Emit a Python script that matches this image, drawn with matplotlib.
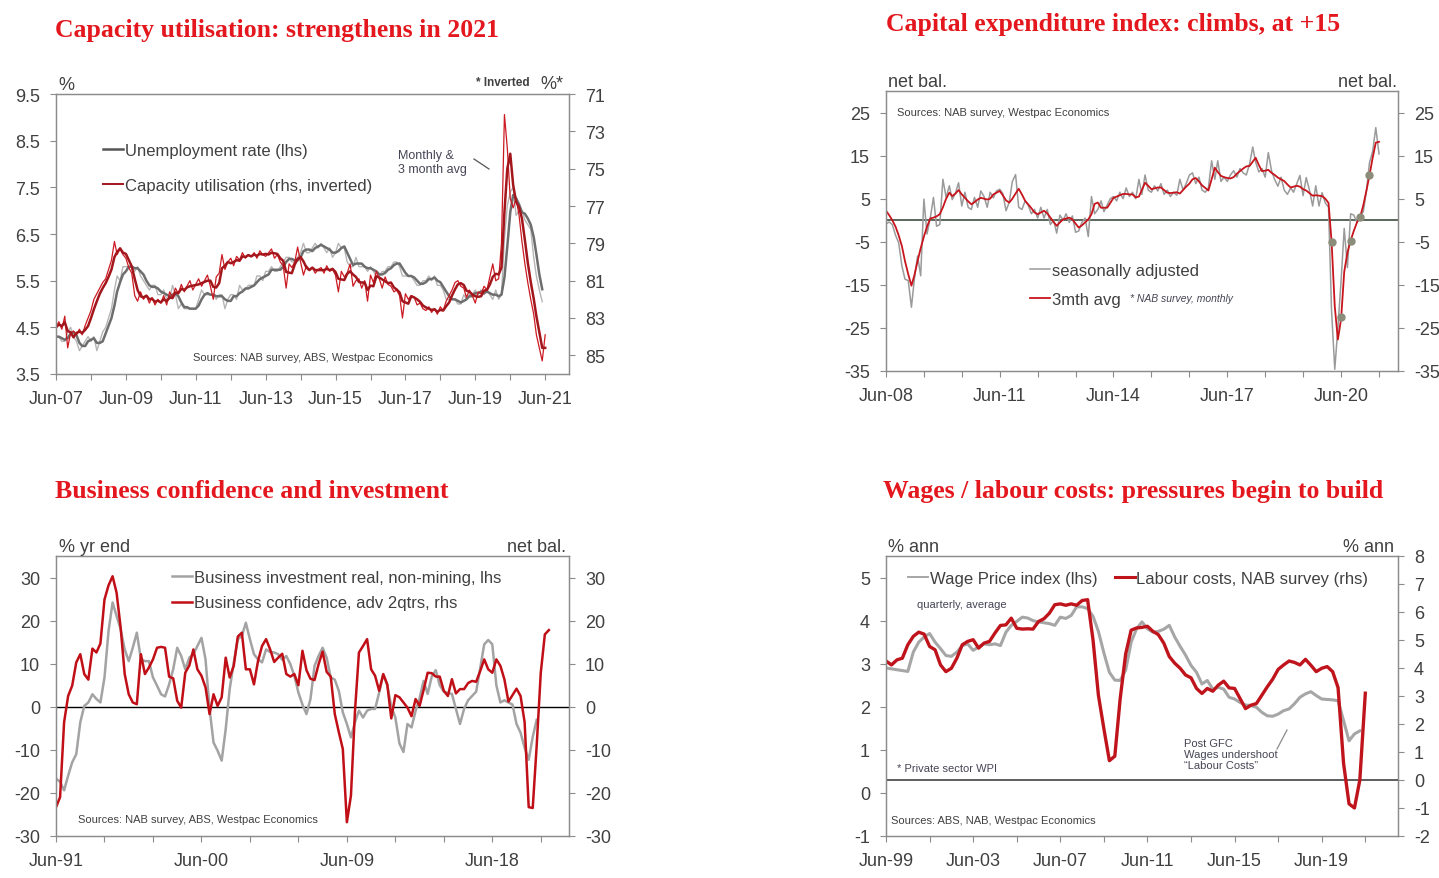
"""Four-panel business survey chart page: capacity, capex, confidence, wages."""

import matplotlib
matplotlib.use("Agg")

import matplotlib.dates as mdates
import matplotlib.pyplot as plt
import pandas as pd
from matplotlib.lines import Line2D
from matplotlib.ticker import FormatStrFormatter

plt.rcParams["font.family"] = ["Liberation Sans", "DejaVu Sans"]
plt.rcParams["axes.unicode_minus"] = False

W, H = 1439, 879
RED_TITLE = "#e3171d"
TXT = "#404040"
NOTE = "#454555"
SPINE = "#8c8c8c"

# ---- panel 1: monthly from Jun-07 -------------------------------------------
UNEMP = [
    4.3, 4.3, 4.2, 4.2, 4.4, 4.5, 4.3,
    4.2, 4.0, 4.1, 4.2, 4.3, 4.2, 4.3, 4.0, 4.2, 4.4, 4.5, 4.7,
    4.9, 5.3, 5.6, 5.5, 5.8, 5.8, 5.8, 5.8, 5.7, 5.8, 5.6, 5.5,
    5.4, 5.3, 5.4, 5.4, 5.2, 5.2, 5.3, 5.1, 5.1, 5.4, 5.2, 4.9,
    5.0, 4.9, 4.9, 4.9, 4.9, 4.9, 5.1, 5.3, 5.2, 5.2, 5.2, 5.2,
    5.1, 5.2, 5.2, 4.9, 5.1, 5.2, 5.2, 5.1, 5.4, 5.3, 5.3, 5.4,
    5.4, 5.4, 5.6, 5.6, 5.5, 5.7, 5.7, 5.8, 5.7, 5.7, 5.8, 5.9,
    6.0, 6.0, 5.9, 5.9, 6.0, 6.1, 6.3, 6.1, 6.1, 6.2, 6.3, 6.2,
    6.3, 6.2, 6.1, 6.2, 6.0, 6.1, 6.3, 6.2, 6.2, 5.9, 5.8, 5.8,
    6.0, 5.8, 5.8, 5.8, 5.7, 5.8, 5.7, 5.6, 5.6, 5.7, 5.7, 5.8,
    5.8, 5.9, 5.9, 5.8, 5.6, 5.6, 5.6, 5.6, 5.5, 5.4, 5.4, 5.5,
    5.5, 5.6, 5.5, 5.6, 5.4, 5.4, 5.3, 5.1, 5.1, 5.1, 5.1, 5.0,
    5.0, 5.2, 5.1, 5.2, 5.2, 5.3, 5.2, 5.3, 5.2, 5.3, 5.2, 5.1,
    5.3, 5.1, 5.2, 6.4, 7.1, 7.4, 7.5, 6.9, 7.0, 7.0, 6.8, 6.7,
    6.6, 6.0, 5.6, 5.3, 5.05,
]
CAPACITY = [
    83.5, 83.2, 83.6, 82.9, 84.6, 83.8, 83.7,
    83.9, 83.6, 83.9, 83.4, 83.0, 82.6, 82.0, 81.7, 81.4, 81.1, 80.9, 80.4,
    79.9, 78.9, 79.6, 79.3, 79.6, 79.8, 80.3, 80.6, 81.8, 82.1, 81.6, 82.0,
    81.8, 82.2, 81.9, 82.3, 82.0, 82.2, 81.8, 82.3, 81.6, 81.9, 81.4, 81.7,
    81.2, 81.6, 81.3, 81.0, 81.5, 81.2, 80.9, 81.3, 81.0, 80.7, 81.3, 82.0,
    80.8, 80.6, 79.6, 80.4, 80.0, 79.8, 80.2, 79.7, 79.9, 79.5, 79.8, 79.6,
    79.7, 79.5, 79.8, 79.4, 79.6, 79.7, 79.5, 79.3, 79.8, 79.6, 80.0, 80.2,
    81.4, 80.1, 80.3, 80.0, 79.2, 80.0, 80.7, 80.2, 80.4, 80.3, 80.6, 80.4,
    80.3, 80.6, 80.2, 80.5, 80.4, 80.7, 81.6, 80.5, 80.8, 80.6, 80.1, 81.3,
    81.0, 80.9, 81.4, 81.0, 82.1, 80.7, 81.1, 80.5, 80.9, 81.4, 80.8, 81.2,
    81.3, 81.6, 81.5, 81.8, 83.0, 81.7, 82.0, 81.8, 81.9, 82.3, 82.2, 82.5,
    82.6, 82.4, 82.7, 82.5, 82.8, 82.4, 82.6, 82.1, 81.8, 81.5, 81.1, 81.0,
    81.3, 81.4, 81.9, 81.5, 81.8, 82.2, 81.6, 81.7, 81.3, 81.5, 80.8, 80.1,
    81.0, 80.9, 79.0, 72.1, 73.9, 76.6, 77.1, 76.6, 77.5, 78.9, 80.1, 81.1,
    82.0, 82.8, 83.9, 84.6, 85.3, 83.9,
]

# ---- panel 2: monthly from Jun-08 -------------------------------------------
CAPEX_SA = [
    -0.9, -0.4, -1.0, -3.5, -5.2, -10.6, -13.7,
    -14.0, -20.2, -13.7, -8.3, -12.9, 4.9, -3.2, 0.5, 5.3, -1.4, -1.0, 9.5,
    5.3, 8.0, 4.8, 6.3, 8.7, 3.3, 6.5, 3.0, 2.5, 5.3, 3.0, 6.8,
    5.5, 3.0, 6.5, 5.2, 6.8, 7.2, 6.2, 2.2, 4.2, 9.0, 10.6, 3.0,
    2.5, 4.5, 3.5, 1.5, 2.5, 0.5, 3.0, 0.5, 2.5, -1.0, 0.0, -3.0,
    1.2, 0.0, 1.5, -0.5, 1.0, -2.8, -2.5, -0.5, 0.5, -3.8, 5.5, 1.5,
    2.5, 4.5, 2.0, 3.5, 5.0, 5.5, 4.5, 6.5, 5.0, 7.5, 5.5, 6.5,
    5.0, 9.5, 6.0, 10.5, 7.0, 6.5, 8.0, 6.8, 8.5, 6.0, 7.0, 5.5,
    6.5, 5.8, 9.5, 7.0, 8.5, 10.5, 11.0, 8.5, 10.0, 7.0, 6.5, 7.5,
    13.8, 9.5, 13.8, 9.0, 10.0, 9.0, 10.5, 11.5, 10.0, 12.0, 11.0, 10.5,
    13.0, 17.0, 13.5, 11.2, 12.0, 10.0, 15.7, 11.5, 9.4, 7.9, 10.0, 7.0,
    6.0, 7.5, 6.5, 8.5, 10.4, 5.7, 9.9, 7.0, 3.3, 8.0, 3.3, 6.4,
    4.0, 3.0, -21.0, -34.6, -25.0, -14.0, -1.9, -11.0, 1.5, 1.2, -0.5, 1.0,
    2.0, 7.0, 13.3, 16.0, 21.5, 15.4,
]
CAPEX_3M = [
    2.2, 1.2, 0.0, -1.5, -3.5, -6.0, -9.5,
    -12.5, -15.2, -12.8, -9.5, -6.5, -3.8, -1.5, 0.4, 0.6, 0.9, 1.4, 3.0,
    5.0, 6.4, 5.6, 6.2, 7.0, 6.0, 5.2, 4.4, 3.7, 4.2, 4.8, 5.2,
    5.0, 4.8, 5.0, 6.0, 6.4, 6.8, 5.8, 4.6, 4.1, 5.0, 6.2, 7.3,
    6.0, 4.5, 3.7, 2.8, 1.8, 1.4, 1.8, 2.2, 1.6, 0.6, -0.4, -1.3,
    -0.5, 0.2, 0.4, 0.6, 0.2, -0.8, -1.7, -1.2, -0.5, 0.2, 1.4, 3.8,
    4.1, 2.9, 2.9, 2.9, 4.0, 5.2, 5.5, 5.8, 6.1, 6.1, 6.0, 6.0,
    5.3, 5.5, 7.0, 8.7, 8.0, 7.2, 7.4, 7.6, 7.6, 7.0, 6.4, 6.3,
    6.4, 6.5, 6.2, 7.0, 7.8, 8.5, 9.5, 9.8, 9.0, 8.1, 7.5, 6.9,
    9.5, 12.2, 11.2, 10.3, 10.0, 9.8, 9.7, 10.0, 10.8, 11.4, 12.0, 12.5,
    12.6, 13.6, 14.5, 12.8, 11.4, 11.5, 11.7, 11.0, 10.5, 9.9, 9.5, 9.1,
    8.3, 7.6, 7.8, 8.0, 7.8, 7.2, 6.9, 6.3, 5.7, 5.8, 5.7, 5.6,
    5.0, 4.0, -4.8, -20.0, -27.7, -22.9, -12.0, -7.5, -4.7, -2.5, -0.5, 0.7,
    3.5, 7.0, 10.4, 14.5, 18.0, 18.2,
]
CAPEX_Q_DATES = ["2020-03-01", "2020-06-01", "2020-09-01", "2020-12-01", "2021-03-01"]
CAPEX_Q = [-5.0, -22.5, -4.8, 0.7, 10.5]

# ---- panel 3: quarterly from Jun-91 -----------------------------------------
BUS_INV = [
    -16.7, -17.4, -19.4, -16.0, -12.9, -11.0, -3.6, 0.2, 1.0, 2.9,
    1.8, 1.0, 6.8, 17.6, 24.2, 21.1, 18.0, 13.3, 10.6, 13.7,
    17.2, 11.0, 10.6, 10.6, 6.8, 4.9, 2.9, 2.4, 5.2, 8.7,
    13.7, 11.8, 8.7, 11.4, 12.2, 14.1, 16.0, 11.0, -0.5, -8.3,
    -10.2, -12.5, -5.2, 4.1, 10.3, 15.7, 16.4, 19.5, 15.7, 12.2,
    11.0, 10.3, 13.3, 12.7, 12.6, 12.2, 10.9, 11.8, 9.9, 7.2,
    3.3, 0.5, -1.7, 1.8, 9.5, 11.8, 13.7, 11.4, 6.8, 6.3,
    3.7, -1.3, -4.0, -7.1, -3.6, -0.9, -2.5, -0.9, -0.5, -0.5,
    3.3, 7.5, 5.0, 0.0, -2.5, -8.5, -10.5, -4.0, -4.8, -1.0,
    2.0, 6.0, 3.0, 7.0, 8.5, 5.0, 3.5, 3.2, 3.0, -0.5,
    -4.0, -0.5, 1.5, 2.5, 3.5, 9.0, 14.5, 15.5, 14.5, 5.0,
    1.0, 1.5, 1.0, 0.5, -4.0, -6.0, -9.5, -12.3, -7.0, -3.0,
]
BUS_CONF = [
    -23.3, -21.0, -3.6, 2.5, 4.9, 10.3, 12.2, 7.6, 6.3, 13.5,
    12.6, 14.7, 24.9, 28.2, 30.3, 26.5, 18.4, 7.6, 2.9, 1.0,
    0.6, 12.2, 7.6, 9.1, 11.0, 13.7, 13.9, 13.7, 7.0, 6.6,
    1.4, -0.2, 7.9, 9.6, 13.3, 8.7, 7.2, 4.5, -1.7, 2.9,
    0.2, 2.2, 11.4, 6.8, 9.5, 16.3, 17.2, 8.7, 8.7, 5.2,
    10.6, 14.1, 15.7, 13.3, 10.4, 11.4, 12.3, 7.6, 7.0, 7.6,
    5.0, 13.0, 8.5, 6.5, 6.2, 9.9, 12.8, 8.1, 7.0, -1.7,
    -5.9, -9.8, -26.8, -20.6, -1.0, 12.6, 14.1, 15.7, 8.7, 7.2,
    3.7, 7.6, 5.2, -2.7, 2.7, 2.2, 1.0, -0.2, -2.2, 1.8,
    0.2, 3.9, 7.9, 7.8, 7.0, 7.0, 3.7, 2.5, 6.4, 3.1,
    4.1, 4.1, 5.5, 6.0, 5.8, 8.3, 11.0, 8.7, 7.9, 11.0,
    9.5, 6.4, 1.2, 2.7, 4.2, 2.5, -3.6, -23.3, -23.5, -9.0,
    7.9, 16.8, 17.8,
]

# ---- panel 4: quarterly from Jun-99 -----------------------------------------
WPI = [
    2.90, 2.88, 2.86, 2.84, 2.82, 3.27, 3.50, 3.62, 3.70, 3.50,
    3.35, 3.19, 3.17, 3.27, 3.42, 3.46, 3.31, 3.39, 3.46, 3.44,
    3.46, 3.42, 3.73, 3.89, 3.98, 4.08, 4.06, 4.00, 3.97, 3.95,
    3.93, 3.89, 4.08, 4.05, 4.12, 4.32, 4.32, 4.28, 4.10, 3.75,
    3.25, 2.80, 2.62, 2.61, 2.85, 3.50, 3.81, 3.97, 3.81, 3.73,
    3.75, 3.80, 3.89, 3.62, 3.40, 3.20, 2.96, 2.80, 2.53, 2.61,
    2.41, 2.45, 2.41, 2.22, 2.18, 2.10, 2.04, 2.03, 1.99, 1.87,
    1.79, 1.78, 1.83, 1.91, 1.95, 2.07, 2.22, 2.30, 2.35, 2.26,
    2.18, 2.17, 2.16, 2.14, 1.68, 1.21, 1.37, 1.44,
]
LABOUR_COSTS = [
    4.25, 4.11, 4.29, 4.35, 4.83, 5.13, 5.28, 5.21, 4.77, 4.65,
    4.11, 3.87, 3.99, 4.35, 4.83, 4.95, 5.01, 4.71, 4.89, 4.95,
    5.25, 5.52, 5.54, 5.78, 5.42, 5.39, 5.40, 5.39, 5.66, 5.76,
    5.96, 6.26, 6.29, 6.24, 6.29, 6.24, 6.41, 6.44, 5.00, 3.03,
    1.83, 0.69, 0.85, 2.90, 4.50, 5.35, 5.43, 5.45, 5.49, 5.31,
    5.19, 4.89, 4.41, 4.17, 3.99, 3.75, 3.65, 3.27, 3.09, 3.27,
    3.17, 3.39, 3.53, 3.29, 3.27, 2.91, 2.55, 2.67, 2.73, 3.03,
    3.33, 3.60, 3.95, 4.11, 4.25, 4.20, 4.11, 4.31, 4.10, 3.87,
    3.99, 4.05, 3.87, 3.30, 0.60, -0.85, -1.00, 0.00, 3.10,
]


fig = plt.figure(figsize=(W / 100, H / 100), dpi=100)
fig.patch.set_facecolor("white")


def px_box(left, top, right, bottom):
    return [left / W, 1 - bottom / H, (right - left) / W, (bottom - top) / H]


def fxy(x, y):
    return x / W, 1 - y / H


def style(ax):
    for sp in ax.spines.values():
        sp.set_color(SPINE)
        sp.set_linewidth(0.9)
    ax.tick_params(which="both", direction="out", length=4.5, width=0.8,
                   color=SPINE, labelsize=13, labelcolor=TXT, pad=7)


def date_axis(ax, first, last_major, step_m, minor_first, xmax):
    major = pd.date_range(first, last_major, freq=f"{step_m}MS")
    ax.set_xticks(major)
    ax.xaxis.set_major_formatter(mdates.DateFormatter("%b-%y"))
    minor = pd.date_range(minor_first, xmax, freq=f"{step_m}MS")
    ax.set_xticks(minor, minor=True)
    ax.set_xlim(pd.Timestamp(first), pd.Timestamp(xmax))


def title(x, y, s):
    fig.text(*fxy(x, y + 3), s, fontsize=18.5, fontweight="bold", color=RED_TITLE,
             family=["Liberation Serif", "DejaVu Serif"], ha="left", va="center")


def ftext(x, y, s, size=13, ha="left", **kw):
    dy = 2.5 if size >= 12 else 0.5
    fig.text(*fxy(x, y + dy), s, fontsize=size, color=kw.pop("color", TXT),
             ha=ha, va="center", **kw)


def leader(x0, y0, x1, y1, color="#555555"):
    fig.add_artist(Line2D([x0 / W, x1 / W], [1 - y0 / H, 1 - y1 / H],
                          color=color, lw=0.9))


def legend(ax, handles, labels, x, y, **kw):
    ax.legend(handles, labels, loc="upper left", bbox_to_anchor=fxy(x, y),
              bbox_transform=fig.transFigure, frameon=False, fontsize=12,
              handlelength=1.2, handletextpad=0.1, borderpad=0,
              borderaxespad=0, labelcolor=TXT, **kw)


# ---- panel 1 ----------------------------------------------------------------
ax1 = fig.add_axes(px_box(56, 95, 569, 375))
ur = pd.Series(UNEMP, index=pd.date_range("2007-06-01", periods=len(UNEMP), freq="MS"))
cu = pd.Series(CAPACITY, index=pd.date_range("2007-06-01", periods=len(CAPACITY), freq="MS"))
ax1.plot(ur.index, ur.values, color="#b5b5b5", lw=1.0)
ax1.plot(ur.index, ur.rolling(3, min_periods=1).mean(), color="#6e6e6e", lw=1.8)
ax1.set_ylim(3.5, 9.5)
ax1.set_yticks([3.5, 4.5, 5.5, 6.5, 7.5, 8.5, 9.5])
ax1.yaxis.set_major_formatter(FormatStrFormatter("%.1f"))
date_axis(ax1, "2007-06-01", "2021-06-01", 24, "2008-06-01", "2022-02-05")
ax1r = ax1.twinx()
ax1r.plot(cu.index, cu.values, color="#cc1a22", lw=0.9)
ax1r.plot(cu.index, cu.rolling(3, min_periods=1).mean(), color="#a3161c", lw=1.8)
ax1r.set_ylim(86, 71)
ax1r.set_yticks(range(71, 86, 2))
for a in (ax1, ax1r):
    style(a)
legend(ax1r,
       [Line2D([], [], color="#555555", lw=1.8), Line2D([], [], color="#a3161c", lw=1.4)],
       ["Unemployment rate (lhs)", "Capacity utilisation (rhs, inverted)"],
       103, 144, labelspacing=1.2)
title(55, 27, "Capacity utilisation: strengthens in 2021")
ftext(58, 83, "%")
ftext(530, 83, "* Inverted", size=8.5, ha="right", fontweight="bold")
ftext(540, 82, "%*")
fig.text(*fxy(398, 163), "Monthly &\n3 month avg", fontsize=9, color=NOTE,
         ha="left", va="center", linespacing=1.25)
leader(474, 160, 489, 170)
ftext(193, 358, "Sources: NAB survey, ABS, Westpac Economics", size=8)

# ---- panel 2 ----------------------------------------------------------------
ax2 = fig.add_axes(px_box(886, 92, 1398, 372))
d2 = pd.date_range("2008-06-01", periods=len(CAPEX_SA), freq="MS")
ax2.axhline(0, color="#4d5a4d", lw=1.3)
l_sa, = ax2.plot(d2, CAPEX_SA, color="#9a9a9a", lw=1.1)
l_3m, = ax2.plot(d2, CAPEX_3M, color="#c8141c", lw=1.3)
ax2.plot(pd.to_datetime(CAPEX_Q_DATES), CAPEX_Q, "o", color="#8c8c7a", ms=5, zorder=4)
ax2.set_ylim(-35, 30)
ax2.set_yticks(range(-35, 26, 10))
date_axis(ax2, "2008-06-01", "2020-06-01", 36, "2009-06-01", "2021-12-01")
ax2.set_xticks(pd.date_range("2009-06-01", "2021-06-01", freq="12MS"), minor=True)
ax2r = ax2.twinx()
ax2r.set_ylim(-35, 30)
ax2r.set_yticks(range(-35, 26, 10))
for a in (ax2, ax2r):
    style(a)
legend(ax2r, [l_sa, l_3m], ["seasonally adjusted", "3mth avg"], 1030, 264,
       labelspacing=0.85)
title(886, 22, "Capital expenditure index: climbs, at +15")
ftext(888, 80, "net bal.")
ftext(1397, 80, "net bal.", ha="right")
ftext(897, 112, "Sources: NAB survey, Westpac Economics", size=8)
ftext(1130, 299, "* NAB survey, monthly", size=7.5, style="italic", color=NOTE)

# ---- panel 3 ----------------------------------------------------------------
ax3 = fig.add_axes(px_box(56, 557, 569, 837))
d3i = pd.date_range("1991-06-01", periods=len(BUS_INV), freq="3MS")
d3c = pd.date_range("1991-06-01", periods=len(BUS_CONF), freq="3MS")
ax3.axhline(0, color="black", lw=1.0)
l_bi, = ax3.plot(d3i, BUS_INV, color="#a3a3a3", lw=1.8)
ax3.set_ylim(-30, 35)
ax3.set_yticks(range(-30, 31, 10))
date_axis(ax3, "1991-06-01", "2018-06-01", 108, "1994-06-01", "2023-03-01")
ax3.set_xticks(pd.date_range("1994-06-01", "2021-06-01", freq="36MS"), minor=True)
ax3r = ax3.twinx()
l_bc, = ax3r.plot(d3c, BUS_CONF, color="#c00f16", lw=1.8)
ax3r.set_ylim(-30, 35)
ax3r.set_yticks(range(-30, 31, 10))
for a in (ax3, ax3r):
    style(a)
legend(ax3r, [l_bi, l_bc],
       ["Business investment real, non-mining, lhs", "Business confidence, adv 2qtrs, rhs"],
       172, 571, labelspacing=0.62)
title(55, 489, "Business confidence and investment")
ftext(59, 545, "% yr end")
ftext(566, 545, "net bal.", ha="right")
ftext(78, 820, "Sources: NAB survey, ABS, Westpac Economics", size=8)

# ---- panel 4 ----------------------------------------------------------------
ax4 = fig.add_axes(px_box(886, 557, 1398, 837))
d4w = pd.date_range("1999-06-01", periods=len(WPI), freq="3MS")
d4l = pd.date_range("1999-06-01", periods=len(LABOUR_COSTS), freq="3MS")
l_wpi, = ax4.plot(d4w, WPI, color="#a6a6a6", lw=2.2)
ax4.set_ylim(-1, 5.5)
ax4.set_yticks(range(-1, 6))
date_axis(ax4, "1999-06-01", "2019-06-01", 48, "2001-06-01", "2022-12-01")
ax4.set_xticks(pd.date_range("2001-06-01", "2021-06-01", freq="48MS"), minor=True)
ax4r = ax4.twinx()
ax4r.axhline(0, color="#333333", lw=1.1)
l_lc, = ax4r.plot(d4l, LABOUR_COSTS, color="#c0141c", lw=2.4)
ax4r.set_ylim(-2, 8)
ax4r.set_yticks(range(-2, 9))
for a in (ax4, ax4r):
    style(a)
legend(ax4r,
       [Line2D([], [], color="#a6a6a6", lw=1.4), Line2D([], [], color="#c0141c", lw=2.2)],
       ["Wage Price index (lhs)", "Labour costs, NAB survey (rhs)"],
       908, 572, ncol=2, columnspacing=1.05)
title(883, 489, "Wages / labour costs: pressures begin to build")
ftext(888, 545, "% ann")
ftext(1394, 545, "% ann", ha="right")
ftext(917, 605, "quarterly, average", size=8, color=NOTE)
ftext(897, 769, "* Private sector WPI", size=8, color=NOTE)
ftext(891, 821, "Sources: ABS, NAB, Westpac Economics", size=8)
fig.text(*fxy(1184, 755), "Post GFC\nWages undershoot\n\u201cLabour Costs\u201d",
         fontsize=8, color=NOTE, ha="left", va="center", linespacing=1.15)
leader(1277, 750, 1287, 731, color="#8c8c8c")

fig.savefig("out.png", dpi=100)
